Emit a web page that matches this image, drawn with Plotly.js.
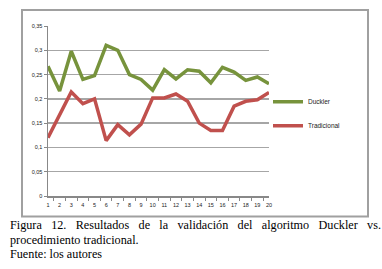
<!DOCTYPE html>
<html><head><meta charset="utf-8">
<script src="https://cdn.plot.ly/plotly-3.0.1.min.js"></script>
<style>
html,body{margin:0;padding:0;background:#fff;}
#wrap{position:relative;width:382px;height:269px;overflow:hidden;}
#chart{position:absolute;left:0;top:0;width:382px;height:269px;}
#cap{position:absolute;left:10px;top:218px;width:371px;font-family:"Liberation Serif","Times New Roman",serif;font-size:12.2px;line-height:14.5px;color:#000;}
#cap .l1{text-align:justify;text-align-last:justify;white-space:nowrap;}
</style>
</head><body>
<div id="wrap"><div id="chart"></div>
<div id="cap"><div class="l1">Figura 12. Resultados de la validación del algoritmo Duckler vs.</div><div>procedimiento tradicional.</div><div>Fuente: los autores</div></div>
</div>
<script>
const categories = ["1","2","3","4","5","6","7","8","9","10","11","12","13","14","15","16","17","18","19","20"];
const duckler = [0.267,0.216,0.298,0.240,0.248,0.310,0.300,0.250,0.240,0.218,0.260,0.241,0.260,0.257,0.233,0.265,0.255,0.238,0.245,0.231];
const tradicional = [0.120,0.168,0.214,0.190,0.200,0.114,0.147,0.126,0.148,0.202,0.202,0.210,0.195,0.150,0.135,0.135,0.185,0.195,0.198,0.213];
const yTicks = [0,0.05,0.1,0.15,0.2,0.25,0.3,0.35];
const yTickText = ["0","0,05","0,1","0,15","0,2","0,25","0,3","0,35"];
const seriesNames = ["Duckler","Tradicional"];

const L=48, R=269, T=26, B=196.5, W=382, H=269;
const pw=R-L, ph=B-T;
const px = x => (x-L)/pw;
const py = y => (B-y)/ph;

const data = [
 {x:categories,y:duckler,type:'scatter',mode:'lines',name:seriesNames[0],line:{color:'#77933C',width:3.5},legend:'legend'},
 {x:categories,y:tradicional,type:'scatter',mode:'lines',name:seriesNames[1],line:{color:'#C0504D',width:3.5},legend:'legend2'}
];
const legFont={family:'Liberation Sans, Arial, sans-serif',size:6.5,color:'#222'};
const tickFont={family:'Liberation Sans, Arial, sans-serif',size:5.5,color:'#222'};
const layout = {
 width:W,height:H,
 margin:{l:L,r:W-R,t:T,b:H-B,pad:0},
 paper_bgcolor:'#fff',plot_bgcolor:'#fff',
 showlegend:true,
 xaxis:{type:'category',tickson:'boundaries',ticks:'outside',ticklen:3,tickcolor:'#888',tickwidth:1,tickangle:0,
   ticklabelstandoff:3,
   showline:true,linecolor:'#888',linewidth:1.5,showgrid:false,zeroline:false,
   tickfont:tickFont,fixedrange:true},
 yaxis:{range:[0,0.35],tickvals:yTicks,ticktext:yTickText,ticks:'outside',ticklen:3,tickcolor:'#888',
   showline:true,linecolor:'#888',linewidth:1.5,showgrid:true,gridcolor:'#a6a6a6',gridwidth:1.5,zeroline:false,
   tickfont:tickFont,fixedrange:true},
 legend:{x:px(268),y:py(102),xanchor:'left',yanchor:'middle',bgcolor:'rgba(0,0,0,0)',font:legFont,itemwidth:30},
 legend2:{x:px(268),y:py(126),xanchor:'left',yanchor:'middle',bgcolor:'rgba(0,0,0,0)',font:legFont,itemwidth:30},
 shapes:[{type:'rect',xref:'paper',yref:'paper',x0:px(22),x1:px(368),y0:py(217),y1:py(10),
   line:{color:'#a0a0a0',width:2},fillcolor:'rgba(0,0,0,0)',layer:'below'}]
};
Plotly.newPlot('chart',data,layout,{displayModeBar:false,staticPlot:true});
</script>
</body></html>
